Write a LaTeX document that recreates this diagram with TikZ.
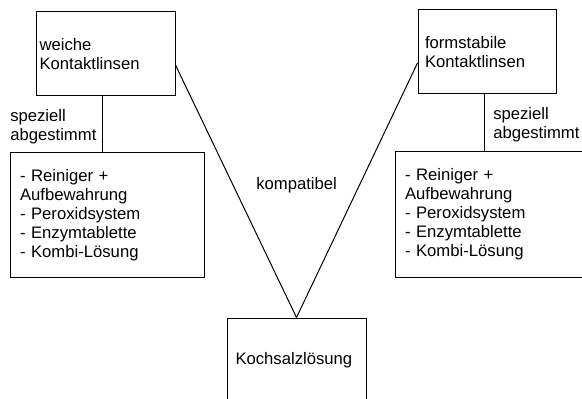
\documentclass[tikz,border=0pt]{standalone}
\usepackage{fontspec}
\setmainfont{Liberation Sans}
\begin{document}
\begin{tikzpicture}[x=0.75pt,y=-0.75pt,
  every node/.style={font=\fontsize{12.5}{14.25}\selectfont,inner sep=0pt},
  kasten/.style={draw,line width=0.75pt,align=left,inner xsep=0pt},
  verbind/.style={line width=0.75pt}]
\useasboundingbox (0,0) rectangle (582,399);
% Linsenarten oben
\node[kasten,minimum width=104.25pt,minimum height=63pt,text width=99pt] (weich) at (105.5,54) {weiche\\Kontaktlinsen};
\node[kasten,minimum width=103.5pt,minimum height=63pt,text width=93pt] (formst) at (487,52) {formstabile\\Kontaktlinsen};
% Pflegemittel
\node[kasten,minimum width=145.5pt,minimum height=93pt,text width=130.5pt] (pflegeW) at (107,215) {- Reiniger +\\Aufbewahrung\\- Peroxidsystem\\- Enzymtablette\\- Kombi-L\"osung};
\node[kasten,minimum width=150pt,minimum height=93.75pt,text width=135pt] (pflegeF) at (495,214.5) {- Reiniger +\\Aufbewahrung\\- Peroxidsystem\\- Enzymtablette\\- Kombi-L\"osung};
% Kochsalz unten
\node[kasten,minimum width=104.25pt,minimum height=63pt,text width=91.5pt] (salz) at (296.5,360) {Kochsalzl\"osung};
\draw[verbind] ([xshift=-2.6pt]weich.south) -- ([xshift=-2.6pt]weich.south |- pflegeW.north);
\draw[verbind] ([xshift=-2.25pt]formst.south) -- ([xshift=-2.25pt]formst.south |- pflegeF.north);
\draw[verbind] (weich.east) ++(0,11) -- (salz.north);
\draw[verbind] (formst.west) ++(0,11) -- (salz.north);
\node[align=left,anchor=north west] (spezW) at (10,109) {speziell\\abgestimmt};
\node[align=left,anchor=north west] (spezF) at (493,107) {speziell\\abgestimmt};
\node[anchor=base west] (kompat) at (256,190) {kompatibel};
\end{tikzpicture}
\end{document}
